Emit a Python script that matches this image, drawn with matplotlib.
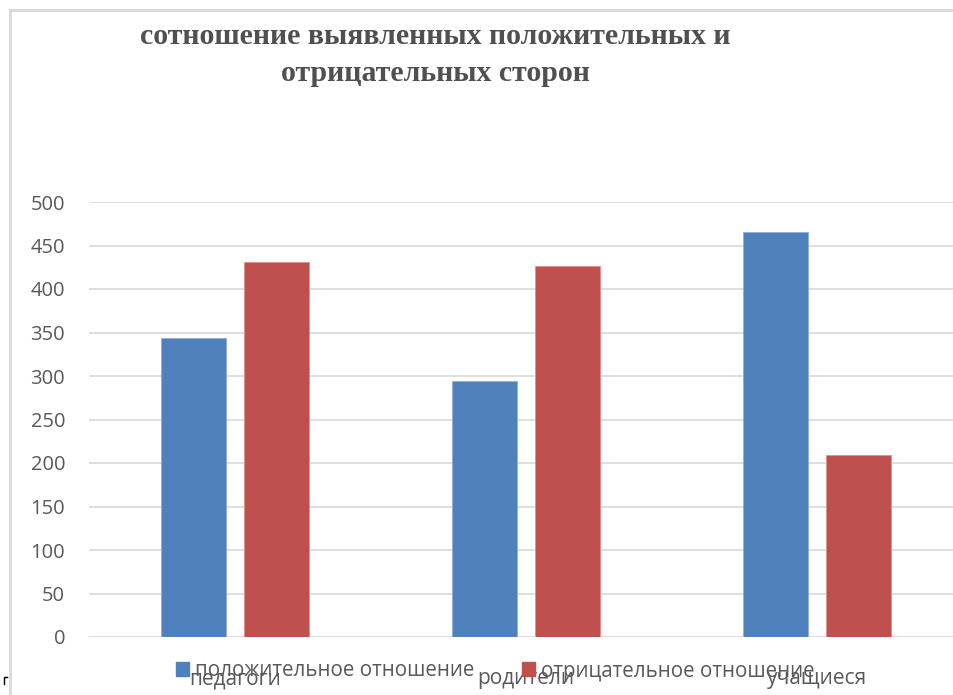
import numpy as np
import matplotlib.pyplot as plt
from matplotlib.patches import Patch
from matplotlib.lines import Line2D

categories = ["педагоги", "родители", "учащиеся"]
positive = [344, 294, 466]
negative = [431, 426, 209]
series_names = ["положительное отношение", "отрицательное отношение"]
title = "сотношение выявленных положительных и\nотрицательных сторон"

blue = "#4F81BD"
red = "#C0504D"
txt = "#595959"

fig = plt.figure(figsize=(9.54, 6.95), dpi=100)
W, H = 954, 695

# рамка как в исходной картинке
fig.add_artist(Line2D([10 / W, 10 / W], [0, 1 - 10 / H], color="#d9d9d9", lw=2))
fig.add_artist(Line2D([10 / W, 1], [1 - 10 / H, 1 - 10 / H], color="#d9d9d9", lw=2))

ax = fig.add_axes([89.5 / W, 58 / H, 873 / W, 435 / H])
x = np.arange(len(categories))
w = 0.223
off = 0.1426
ax.bar(x - off, positive, w, color=blue, edgecolor="#8fb0d9", linewidth=0.6, zorder=3)
ax.bar(x + off, negative, w, color=red, edgecolor="#e0908e", linewidth=0.6, zorder=3)

ax.set_xlim(-0.5, 2.5)
ax.set_ylim(0, 500)
ax.set_yticks(range(0, 501, 50))
ax.yaxis.grid(True, color="#d9d9d9", lw=1.2, zorder=0)
for s in ax.spines.values():
    s.set_visible(False)
ax.tick_params(axis="y", length=0, pad=17.6, labelsize=14.5, labelcolor=txt)
for lab in ax.get_yticklabels():
    lab.set_fontfamily("Open Sans")
ax.set_xticks(x)
ax.set_xticklabels(categories, fontsize=15, color=txt, family="Open Sans")
ax.tick_params(axis="x", length=0, pad=22.5)

fig.text(435 / W, 1 - 55 / H, title, ha="center", va="center", fontsize=21.5,
         fontweight="bold", family="Liberation Serif", color="#505050", linespacing=1.45)

handles = [Patch(color=blue), Patch(color=red)]
fig.legend(handles, series_names, loc="center left", bbox_to_anchor=(157 / W, 1 - 671 / H),
           ncol=2, frameon=False, handlelength=0.65, handleheight=0.65,
           handletextpad=0.3, columnspacing=2.3, labelcolor=txt,
           prop={"family": "Open Sans", "size": 14.8})

# маленький уголок слева внизу
fig.add_artist(Line2D([4 / W, 4 / W, 7 / W], [1 - 684 / H, 1 - 677 / H, 1 - 677 / H], color="black", lw=1))

fig.savefig("out.png", dpi=100)
